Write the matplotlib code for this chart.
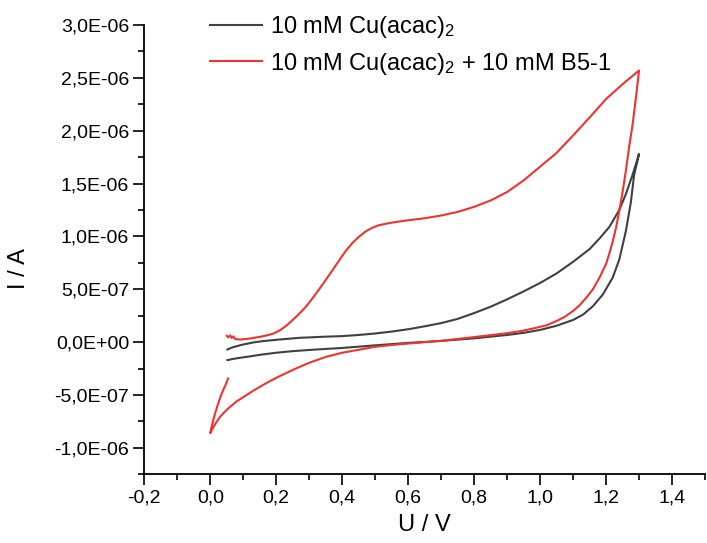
import numpy as np
import matplotlib
matplotlib.use("Agg")
import matplotlib.pyplot as plt
from matplotlib.ticker import MultipleLocator, FuncFormatter

plt.rcParams['font.family'] = ['Liberation Sans', 'DejaVu Sans']
plt.rcParams['mathtext.default'] = 'regular'

# Cu(acac)2 alone: forward scan (0.05 -> 1.3 V) then reverse scan back to 0.05 V
cu_fwd_u = [0.052, 0.065, 0.08, 0.10, 0.13, 0.16, 0.21, 0.27, 0.30, 0.35, 0.40, 0.45, 0.50, 0.55,
            0.60, 0.65, 0.70, 0.75, 0.80, 0.85, 0.90, 0.95, 1.00, 1.05, 1.10, 1.15, 1.18, 1.21,
            1.24, 1.26, 1.28, 1.30]
cu_fwd_i = [-0.070, -0.052, -0.038, -0.022, -0.003, 0.010, 0.025, 0.041, 0.045, 0.052, 0.057, 0.068,
            0.082, 0.100, 0.122, 0.150, 0.180, 0.220, 0.275, 0.335, 0.405, 0.480, 0.560, 0.650,
            0.760, 0.880, 0.980, 1.090, 1.250, 1.400, 1.580, 1.780]
cu_rev_u = [1.285, 1.275, 1.26, 1.24, 1.22, 1.19, 1.16, 1.13, 1.10, 1.05, 1.00, 0.95, 0.90, 0.80,
            0.70, 0.60, 0.50, 0.40, 0.35, 0.30, 0.25, 0.20, 0.15, 0.12, 0.09, 0.07, 0.052]
cu_rev_i = [1.580, 1.320, 1.050, 0.780, 0.610, 0.450, 0.340, 0.260, 0.210, 0.155, 0.116, 0.088,
            0.068, 0.036, 0.012, -0.007, -0.030, -0.055, -0.064, -0.074, -0.085, -0.100, -0.120,
            -0.135, -0.148, -0.158, -0.170]

# Cu(acac)2 + B5-1: forward scan, reverse scan down to 0 V, then back up to 0.05 V
b5_fwd_u = [0.050, 0.055, 0.060, 0.065, 0.070, 0.075, 0.09, 0.11, 0.13, 0.15, 0.17, 0.19, 0.21,
            0.23, 0.25, 0.27, 0.29, 0.31, 0.33, 0.35, 0.37, 0.39, 0.41, 0.43, 0.45, 0.47, 0.49,
            0.51, 0.54, 0.57, 0.60, 0.65, 0.70, 0.75, 0.80, 0.85, 0.90, 0.95, 1.00, 1.05, 1.10,
            1.15, 1.20, 1.25, 1.30]
b5_fwd_i = [0.060, 0.045, 0.065, 0.040, 0.055, 0.030, 0.025, 0.030, 0.040, 0.050, 0.063, 0.080,
            0.110, 0.154, 0.210, 0.270, 0.335, 0.415, 0.500, 0.588, 0.678, 0.770, 0.860, 0.935,
            0.995, 1.045, 1.080, 1.105, 1.125, 1.140, 1.153, 1.172, 1.198, 1.232, 1.280, 1.340,
            1.420, 1.530, 1.660, 1.790, 1.955, 2.125, 2.300, 2.440, 2.570]
b5_rev_u = [1.29, 1.28, 1.27, 1.26, 1.25, 1.24, 1.23, 1.22, 1.21, 1.20, 1.18, 1.16, 1.14, 1.12,
            1.10, 1.075, 1.05, 1.02, 0.98, 0.94, 0.90, 0.85, 0.80, 0.75, 0.70, 0.65, 0.60, 0.55,
            0.50, 0.45, 0.40, 0.35, 0.30, 0.27, 0.24, 0.21, 0.18, 0.16, 0.13, 0.11, 0.10, 0.08,
            0.06, 0.045, 0.03, 0.02, 0.01, 0.0]
b5_rev_i = [2.300, 2.050, 1.850, 1.620, 1.420, 1.240, 1.080, 0.950, 0.840, 0.740, 0.610, 0.500,
            0.420, 0.350, 0.295, 0.240, 0.200, 0.160, 0.130, 0.104, 0.085, 0.066, 0.048, 0.030,
            0.012, 0.000, -0.013, -0.027, -0.044, -0.072, -0.100, -0.140, -0.195, -0.235, -0.278,
            -0.322, -0.370, -0.405, -0.460, -0.500, -0.520, -0.560, -0.612, -0.655, -0.705,
            -0.750, -0.800, -0.860]
b5_end_u = [0.004, 0.009, 0.016, 0.024, 0.031, 0.039, 0.047, 0.054]
b5_end_i = [-0.800, -0.738, -0.660, -0.580, -0.515, -0.454, -0.400, -0.344]

cu_u = np.concatenate([cu_fwd_u, cu_rev_u])
cu_i = np.concatenate([cu_fwd_i, cu_rev_i]) * 1e-6
b5_u = np.concatenate([b5_fwd_u, b5_rev_u, b5_end_u])
b5_i = np.concatenate([b5_fwd_i, b5_rev_i, b5_end_i]) * 1e-6

fig, ax = plt.subplots(figsize=(7.07, 5.43), dpi=100)
fig.subplots_adjust(left=0.2041, right=0.9972, bottom=0.1265, top=0.954)

ax.plot(cu_u, cu_i, color='#404040', lw=1.5, label='10 mM Cu(acac)$_2$')
ax.plot(b5_u, b5_i, color='#ee3333', lw=1.5, label='10 mM Cu(acac)$_2$ + 10 mM B5-1')

ax.set_xlim(-0.2, 1.5)
ax.set_ylim(-1.25e-6, 3.0e-6)
ax.xaxis.set_major_locator(MultipleLocator(0.2))
ax.xaxis.set_minor_locator(MultipleLocator(0.1))
ax.yaxis.set_major_locator(MultipleLocator(0.5e-6))
ax.yaxis.set_minor_locator(MultipleLocator(0.25e-6))
ax.xaxis.set_major_formatter(FuncFormatter(lambda v, p: f"{v:.1f}".replace('.', ',').replace('-0,0', '0,0')))
ax.yaxis.set_major_formatter(FuncFormatter(lambda v, p: f"{v:.1E}".replace('.', ',')))

for side in ['top', 'right']:
    ax.spines[side].set_visible(False)
for side in ['left', 'bottom']:
    ax.spines[side].set_linewidth(1.3)
ax.tick_params(which='major', direction='out', length=8, width=1.2, labelsize=14, pad=3)
ax.tick_params(which='minor', direction='out', length=4.5, width=1.2)

ax.set_xlabel('U / V', fontsize=17)
ax.set_ylabel('I / A', fontsize=17)
ax.xaxis.set_label_coords(0.5, -0.088)
ax.yaxis.set_label_coords(-0.203, 0.459)

ax.legend(loc='upper left', bbox_to_anchor=(210 / 707, 1 - 14 / 543), bbox_transform=fig.transFigure,
          frameon=False, fontsize=17, handlelength=2.2, handletextpad=0.35, labelspacing=0.45,
          borderpad=0, borderaxespad=0)

fig.savefig('out.png', dpi=100)
